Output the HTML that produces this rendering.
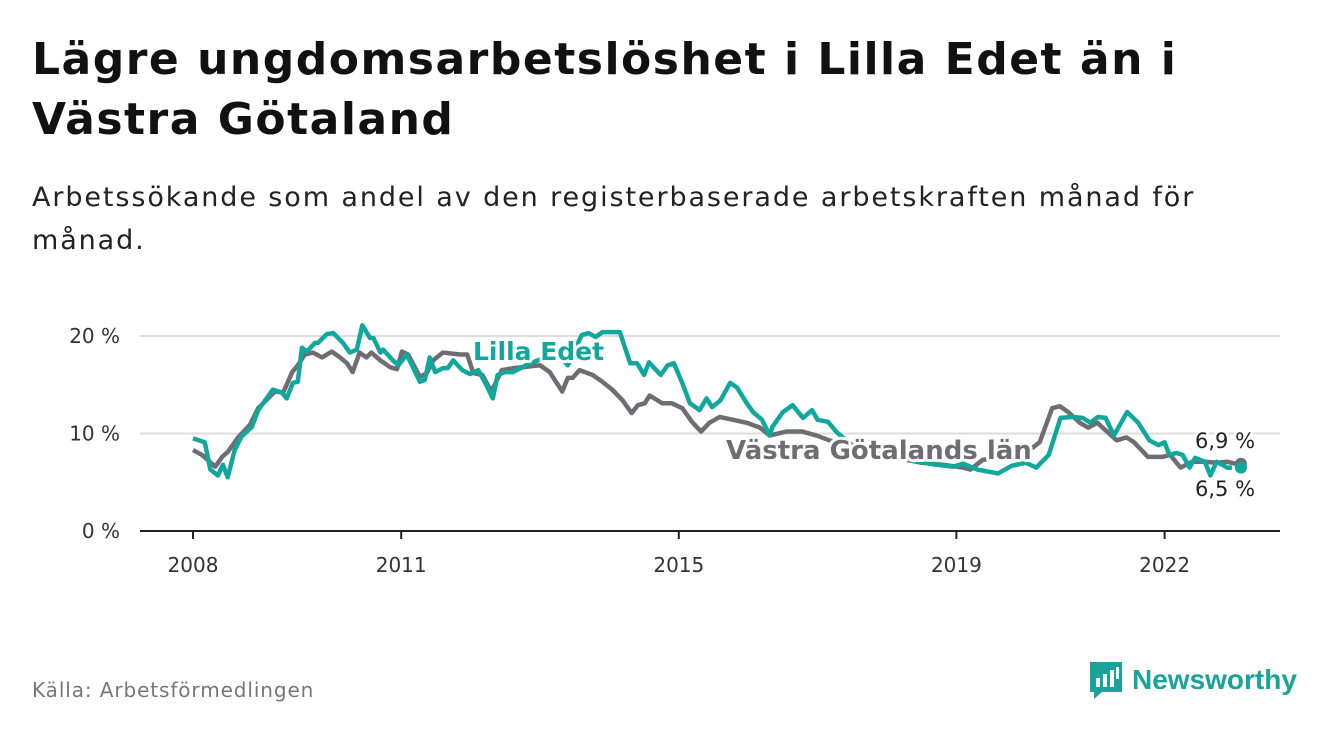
<!DOCTYPE html>
<html><head><meta charset="utf-8"><style>
body{margin:0;width:1340px;height:734px;background:#fff;font-family:"DejaVu Sans",sans-serif;overflow:hidden;position:relative}
.t{position:absolute;left:32px;top:30px;font-size:44px;font-weight:bold;color:#111;line-height:60px;letter-spacing:1.5px}
.s{position:absolute;left:32px;top:176px;font-size:27px;color:#222;line-height:43px;letter-spacing:1.9px}
.src{position:absolute;left:32px;top:678px;font-size:20px;color:#777;letter-spacing:0.9px}
.logo{position:absolute;left:1088px;top:660px;display:flex;align-items:center;gap:8px;color:#1aa39a;font-size:28px;font-weight:bold;font-family:"Liberation Sans",sans-serif}
svg{position:absolute;left:0;top:0}
</style></head><body>
<div class="t">Lägre ungdomsarbetslöshet i Lilla Edet än i<br>Västra Götaland</div>
<div class="s">Arbetssökande som andel av den registerbaserade arbetskraften månad för<br>månad.</div>
<svg id="c" width="1340" height="734"></svg>
<div class="src">Källa: Arbetsförmedlingen</div>
<div class="logo"><svg style="position:static" width="36" height="40" viewBox="0 0 36 40"><path d="M2 2h32v30H14l-8 7v-7H2z" fill="#1aa39a"/><rect x="8" y="18" width="4" height="9" fill="#fff"/><rect x="15" y="14" width="4" height="13" fill="#fff"/><rect x="22" y="10" width="4" height="17" fill="#fff"/><rect x="28" y="7" width="3" height="12" fill="#fff"/></svg><span>Newsworthy</span></div>
<script>
const yTicks=[0,10,20];
const xTicks=[2008,2011,2015,2019,2022];
const lillaDates=[2008.0,2008.17,2008.25,2008.36,2008.43,2008.5,2008.6,2008.7,2008.85,2008.94,2009.15,2009.28,2009.35,2009.44,2009.51,2009.57,2009.64,2009.76,2009.8,2009.93,2010.02,2010.16,2010.26,2010.36,2010.44,2010.55,2010.6,2010.7,2010.74,2010.88,2010.96,2011.08,2011.27,2011.34,2011.41,2011.49,2011.6,2011.67,2011.75,2011.88,2011.99,2012.11,2012.21,2012.32,2012.39,2012.5,2012.61,2012.8,2013.0,2013.2,2013.4,2013.6,2013.7,2013.8,2013.9,2014.0,2014.15,2014.3,2014.4,2014.5,2014.57,2014.74,2014.84,2014.93,2015.06,2015.16,2015.3,2015.4,2015.48,2015.6,2015.74,2015.84,2015.98,2016.07,2016.2,2016.31,2016.35,2016.5,2016.64,2016.79,2016.92,2017.0,2017.15,2017.28,2017.5,2017.8,2018.1,2018.4,2018.7,2018.95,2019.1,2019.3,2019.6,2019.8,2020.0,2020.15,2020.33,2020.5,2020.67,2020.82,2020.93,2021.04,2021.15,2021.27,2021.46,2021.62,2021.78,2021.91,2022.0,2022.07,2022.17,2022.26,2022.36,2022.44,2022.58,2022.66,2022.75,2022.83,2022.9,2022.97,2023.04,2023.1];
const lillaValues=[9.5,9.1,6.3,5.7,6.8,5.5,8.3,9.7,10.7,12.4,14.5,14.2,13.6,15.2,15.3,18.8,18.4,19.3,19.3,20.2,20.3,19.3,18.3,18.6,21.1,19.8,19.8,18.3,18.6,17.5,17.0,18.1,15.3,15.5,17.8,16.3,16.7,16.7,17.5,16.5,16.1,16.5,15.2,13.6,16.0,16.3,16.3,17.0,17.6,18.5,17.0,20.1,20.3,19.9,20.4,20.4,20.4,17.2,17.2,16.0,17.3,16.0,17.0,17.2,15.0,13.1,12.4,13.6,12.7,13.4,15.2,14.7,13.1,12.2,11.4,9.8,10.7,12.2,12.9,11.6,12.4,11.4,11.2,10.1,8.8,8.0,7.6,7.2,6.8,6.6,6.9,6.3,5.9,6.7,7.0,6.5,7.8,11.6,11.7,11.6,11.1,11.7,11.6,9.8,12.2,11.1,9.3,8.8,9.1,7.8,8.0,7.8,6.5,7.5,7.1,5.7,7.1,6.8,6.5,6.5];
const vgDates=[2008.0,2008.13,2008.32,2008.42,2008.5,2008.65,2008.82,2008.94,2009.18,2009.3,2009.43,2009.51,2009.61,2009.73,2009.86,2010.0,2010.12,2010.22,2010.3,2010.4,2010.5,2010.57,2010.7,2010.84,2010.94,2011.01,2011.1,2011.27,2011.37,2011.46,2011.6,2011.85,2011.95,2012.04,2012.17,2012.3,2012.45,2012.61,2012.75,2013.0,2013.14,2013.32,2013.4,2013.47,2013.57,2013.76,2013.9,2014.04,2014.19,2014.32,2014.41,2014.51,2014.58,2014.76,2014.9,2015.05,2015.19,2015.32,2015.44,2015.59,2015.78,2015.98,2016.17,2016.31,2016.55,2016.78,2016.98,2017.17,2017.5,2017.9,2018.2,2018.5,2018.8,2019.1,2019.2,2019.38,2019.7,2020.0,2020.2,2020.38,2020.49,2020.61,2020.78,2020.9,2021.03,2021.17,2021.31,2021.45,2021.56,2021.76,2021.97,2022.08,2022.23,2022.4,2022.58,2022.76,2022.9,2023.02,2023.1];
const vgValues=[8.3,7.8,6.6,7.6,8.1,9.6,10.9,12.6,14.3,14.2,16.3,17.0,18.1,18.3,17.8,18.4,17.8,17.2,16.3,18.3,17.8,18.3,17.5,16.8,16.6,18.4,18.1,15.8,16.2,17.5,18.3,18.1,18.1,16.2,16.0,14.3,16.5,16.7,16.8,17.0,16.3,14.3,15.7,15.7,16.5,16.0,15.3,14.5,13.4,12.1,12.9,13.1,13.9,13.1,13.1,12.6,11.2,10.2,11.1,11.7,11.4,11.1,10.6,9.8,10.2,10.2,9.8,9.3,8.6,7.8,7.4,7.0,6.8,6.5,6.3,7.3,7.6,8.0,9.1,12.6,12.8,12.2,11.1,10.6,11.1,10.2,9.3,9.6,9.1,7.6,7.6,7.8,6.5,7.1,7.1,7.0,7.1,6.9,6.9];
const endLabels=["6,9 %","6,5 %"];
const X0=193,PX=69.4,Y0=531,PY=9.75;
const xs=d=>X0+(d-2008)*PX, ys=v=>Y0-v*PY;
const S="http://www.w3.org/2000/svg",svg=document.getElementById('c');
function mk(t,a,p){const e=document.createElementNS(S,t);for(const k in a)e.setAttribute(k,a[k]);(p||svg).appendChild(e);return e;}
yTicks.forEach(v=>{
 if(v>0){const g=mk('line',{x1:140,x2:1280,y1:ys(v),y2:ys(v),stroke:'#ddd','stroke-width':2});
 
 }
 const t=mk('text',{x:120,y:ys(v)+7,'text-anchor':'end','font-size':20,fill:'#333'});t.textContent=v+' %';
 
 
});
const fwd=lillaDates.map((d,i)=>xs(d)+','+ys(lillaValues[i])).join(' ');
const vl=mk('polyline',{points:vgDates.map((d,i)=>xs(d)+','+ys(vgValues[i])).join(' '),fill:'none',stroke:'#6f6d73','stroke-width':4.5,'stroke-linejoin':'round'});


const ll=mk('polyline',{points:fwd,fill:'none',stroke:'#10a89c','stroke-width':4.5,'stroke-linejoin':'round'});


const d1=mk('circle',{cx:xs(vgDates[vgDates.length-1]),cy:ys(vgValues[vgValues.length-1]),r:6,fill:'#6f6d73'});


const d2=mk('circle',{cx:xs(lillaDates[lillaDates.length-1]),cy:ys(lillaValues[lillaValues.length-1]),r:6,fill:'#10a89c'});


const ax=mk('line',{x1:140,x2:1280,y1:Y0,y2:Y0,stroke:'#222','stroke-width':2});


xTicks.forEach(y=>{
 const tk=mk('line',{x1:xs(y),x2:xs(y),y1:Y0,y2:Y0+8,stroke:'#222','stroke-width':2});
 
 
 const t=mk('text',{x:xs(y),y:572,'text-anchor':'middle','font-size':20,fill:'#333'});t.textContent=y;
 
 
});
function lab(txt,x,y,col,name,size,w){
 const t=mk('text',{x:x,y:y,'font-size':size,'font-weight':w,fill:col,stroke:'#fff','stroke-width':6,'paint-order':'stroke','stroke-linejoin':'round'});t.textContent=txt;
 
 
}
lab('Lilla Edet',473,360,'#10a89c','lilla-edet-label',25,'bold');
lab('Västra Götalands län',726,459,'#6f6d73','vastra-gotaland-label',26,'bold');
lab(endLabels[0],1195,448,'#222','end-value-vastra-gotaland',21,'normal');
lab(endLabels[1],1195,496,'#222','end-value-lilla-edet',21,'normal');
</script>
</body></html>
